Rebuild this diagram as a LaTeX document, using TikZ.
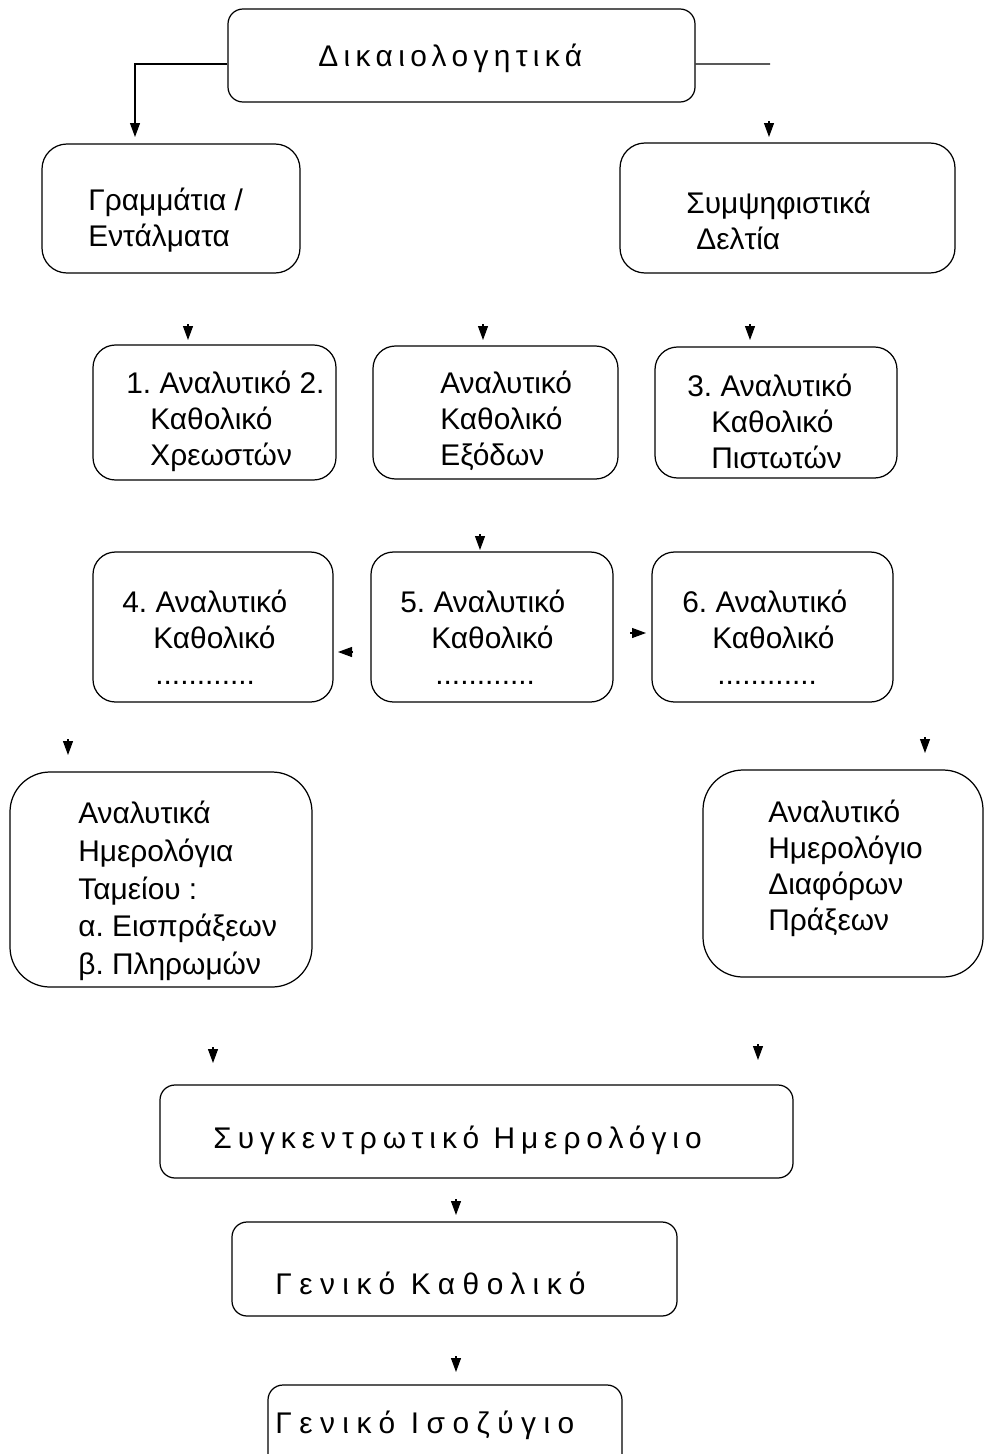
\documentclass[tikz,border=0pt]{standalone}
\usepackage{fontspec}
\setmainfont{Liberation Sans}
\newfontfamily\spacedfont[LetterSpace=18]{Liberation Sans}
\newfontfamily\spacedfontb[LetterSpace=20]{Liberation Sans}
\newfontfamily\spacedfontc[LetterSpace=25]{Liberation Sans}
\usetikzlibrary{arrows.meta}
\frenchspacing
\begin{document}
\begin{tikzpicture}[x=0.02cm,y=-0.02cm,
  box/.style={draw, line width=0.7pt, rounded corners=#1, inner sep=0pt},
  box/.default=0.4cm,
  sz/.style n args={2}{minimum width=#1*0.02cm, minimum height=#2*0.02cm},
  txt/.style={inner sep=0pt, anchor=west, align=left, font=\fontsize{17}{20.5}\selectfont},
  stxt/.style={inner sep=0pt, anchor=west, font=\fontsize{17}{20.5}\spacedfont},
  conn/.style={line width=0.6pt},
  arr/.style={line width=0.6pt, -{Triangle[width=0.2cm,length=0.28cm]}}]
\useasboundingbox (0,0) rectangle (985,1454);

% boxes
\node[box=0.3cm, sz={467}{93}] (top) at (461.5,55.5) {};
\node[box=0.5cm, sz={258}{129}] (gram) at (171,208.5) {};
\node[box=0.5cm, sz={335}{130}] (symp) at (787.5,208) {};
\node[box=0.45cm, sz={243}{135}] (b1) at (214.5,412.5) {};
\node[box=0.45cm, sz={245}{133}] (b2) at (495.5,412.5) {};
\node[box=0.45cm, sz={242}{131}] (b3) at (776,412.5) {};
\node[box=0.45cm, sz={240}{150}] (b4) at (213,627) {};
\node[box=0.45cm, sz={242}{150}] (b5) at (492,627) {};
\node[box=0.45cm, sz={241}{150}] (b6) at (772.5,627) {};
\node[box=0.8cm, sz={302}{215}] (ana) at (161,879.5) {};
\node[box=0.8cm, sz={280}{207}] (hme) at (843,873.5) {};
\node[box=0.3cm, sz={633}{93}] (syg) at (476.5,1131.5) {};
\node[box=0.3cm, sz={445}{94}] (gk) at (454.5,1269) {};
\node[box=0.3cm, sz={354}{85}] (gi) at (445,1427.5) {};

% texts
\node[stxt] (toptx) at (318,58) {Δικαιολογητικά};
\node[txt] (gramtx) at (88,220) {Γραμμάτια /\\Εντάλματα};
\node[txt] (symptx) at (686,220) {Συμψηφιστικά\\\hspace*{0.2cm}Δελτία};
\node[txt] (b1tx) at (126,421) {1. Αναλυτικό 2.\\\hspace*{0.48cm}Καθολικό\\\hspace*{0.48cm}Χρεωστών};
\node[txt] (b2tx) at (440,421) {Αναλυτικό\\Καθολικό\\Εξόδων};
\node[txt] (b3tx) at (687,421) {3. Αναλυτικό\\\hspace*{0.48cm}Καθολικό\\\hspace*{0.48cm}Πιστωτών};
\node[txt] (b4tx) at (122,637) {4. Αναλυτικό\\\hspace*{0.62cm}Καθολικό\\\hspace*{0.66cm}............};
\node[txt] (b5tx) at (400,637) {5. Αναλυτικό\\\hspace*{0.62cm}Καθολικό\\\hspace*{0.7cm}............};
\node[txt] (b6tx) at (682,637) {6. Αναλυτικό\\\hspace*{0.6cm}Καθολικό\\\hspace*{0.7cm}............};
\node[txt, font=\fontsize{17}{21.5}\selectfont] (anatx) at (78,891) {Αναλυτικά\\Ημερολόγια\\Ταμείου :\\α. Εισπράξεων\\β. Πληρωμών};
\node[txt] (hmetx) at (768,868) {Αναλυτικό\\Ημερολόγιο\\Διαφόρων\\Πράξεων};
\node[stxt, font=\fontsize{17}{20.5}\spacedfontb] (sygtx) at (213,1140) {Συγκεντρωτικό Ημερολόγιο};
\node[stxt, font=\fontsize{17}{20.5}\spacedfontc] (gktx) at (275,1283) {Γενικό Καθολικό};
\node[stxt, font=\fontsize{17}{20.5}\spacedfontc] (gitx) at (275,1425) {Γενικό Ισοζύγιο};

% connectors (visible parts)
\coordinate (tgram) at (135,137);
\draw[arr] ([yshift=-0.17cm]top.west) -| (tgram);
\coordinate (rj) at (770,64);
\draw[conn] ([yshift=-0.17cm]top.east) -- (rj);

\foreach \n/\x/\y in {s0/769/137, s1/188/340, s2/483/340, s3/750/340, s4/480/550,
                      s7/68/755, s8/925/753, s9/213/1063, s10/758/1060,
                      s11/456/1215, s12/456/1372}{
  \coordinate (\n e) at (\x,\y);
  \coordinate (\n b) at (\x,\y-16);
  \draw[arr] (\n b) -- (\n e);
}
\coordinate (s5b) at (353,652);
\coordinate (s5e) at (338,652);
\draw[arr] (s5b) -- (s5e);
\coordinate (s6b) at (630,633);
\coordinate (s6e) at (646,633);
\draw[arr] (s6b) -- (s6e);
\end{tikzpicture}
\end{document}
